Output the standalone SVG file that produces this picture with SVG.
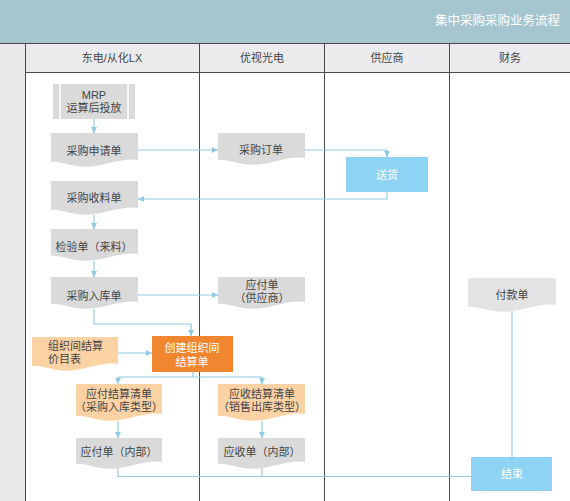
<svg xmlns="http://www.w3.org/2000/svg" width="570" height="501" viewBox="0 0 570 501">
<defs>
<style>
text{font-family:"Liberation Sans","Noto Sans CJK SC",sans-serif;font-size:11px;fill:#444;text-anchor:middle;dominant-baseline:central}
.lane{font-size:11px;fill:#444}
.title{font-size:12.5px;fill:#fff;text-anchor:end}
.wt{fill:#fff}
.ls{text-anchor:start}
.gray{fill:#dadadb}
.peach{fill:#fbd2a4}
.blue{fill:#8fd3f4}
.orange{fill:#f0862f}
.grid{stroke:#4a4a4a;stroke-width:1;fill:none}
.c{stroke:#93c9e0;stroke-width:1.2;fill:none}
.ca{stroke:#93c9e0;stroke-width:1.2;fill:none;marker-end:url(#ah)}
</style>
<marker id="ah" markerWidth="7" markerHeight="7" refX="6" refY="3.5" orient="auto" markerUnits="userSpaceOnUse">
<path d="M0,0.5 L6,3.5 L0,6.5 Z" fill="#93c9e0"/>
</marker>
</defs>
<rect x="0" y="0" width="570" height="501" fill="#fff"/>
<rect x="0" y="0" width="570" height="43" fill="#a6c6cf"/>
<text class="title" x="560" y="21">集中采购采购业务流程</text>
<rect x="0" y="43" width="25" height="458" fill="#e8e8ea"/>
<rect x="25" y="43" width="545" height="29" fill="#ebebed"/>
<g id="lanes">
<path class="grid" d="M0,43.5 H570 M25,72.5 H570 M25.5,43 V501 M199.5,43 V501 M324.5,43 V501 M449.5,43 V501"/>
<text class="lane" x="112" y="58">东电/从化LX</text>
<text class="lane" x="262" y="58">优视光电</text>
<text class="lane" x="387" y="58">供应商</text>
<text class="lane" x="510" y="58">财务</text>
</g>
<g id="connectors">
<path class="ca" d="M94,119 V133"/>
<path class="ca" d="M138,150 H218"/>
<path class="ca" d="M305,150 H387 V157"/>
<path class="ca" d="M387,192 V199 H138"/>
<path class="ca" d="M94,215 V229"/>
<path class="ca" d="M94,261 V277"/>
<path class="ca" d="M138,295 H218"/>
<path class="ca" d="M94,309 V324 H191 V336"/>
<path class="ca" d="M118,353 H152"/>
<path class="c" d="M193,372 V377 M118,377 H262"/>
<path class="ca" d="M118,377 V384"/>
<path class="ca" d="M262,377 V384"/>
<path class="ca" d="M118,421 V438"/>
<path class="ca" d="M262,421 V438"/>
<path class="c" d="M118,468 V476.5 H471 M262,468 V476.5"/>
<path d="M512,311 V457" stroke="#a8dcd8" stroke-width="1.5" fill="none"/>
</g>
<g id="mrp">
<rect class="gray" x="53" y="84" width="82" height="35"/>
<path d="M60,84 V119 M128,84 V119" stroke="#fff" stroke-width="1.5"/>
<text x="94" y="95">MRP</text>
<text x="94" y="108">运算后投放</text>
</g>
<g id="req">
<path class="gray" d="M51,133 H138 V160 C118,157 100,170 76,166 C64,164 57,161 51,162 Z"/>
<text x="94" y="151">采购申请单</text>
</g>
<g id="po">
<path class="gray" d="M218,133 H305 V158 C285,155 267,168 243,164 C231,162 224,159 218,160 Z"/>
<text x="261" y="150">采购订单</text>
</g>
<g id="ship">
<rect class="blue" x="346" y="157" width="82" height="35"/>
<text class="wt" x="387" y="175">送货</text>
</g>
<g id="recv">
<path class="gray" d="M51,181 H138 V208 C118,205 100,218 76,214 C64,212 57,209 51,210 Z"/>
<text x="94" y="198">采购收料单</text>
</g>
<g id="insp">
<path class="gray" d="M51,229 H138 V254 C118,251 100,264 76,260 C64,258 57,255 51,256 Z"/>
<text x="94" y="247">检验单（来料）</text>
</g>
<g id="stockin">
<path class="gray" d="M51,277 H138 V302 C118,299 100,312 76,308 C64,306 57,303 51,304 Z"/>
<text x="94" y="296">采购入库单</text>
</g>
<g id="apsup">
<path class="gray" d="M218,277 H305 V302 C285,299 267,312 243,308 C231,306 224,303 218,304 Z"/>
<text x="262" y="285">应付单</text>
<text x="262" y="298">（供应商）</text>
</g>
<g id="price">
<path class="peach" d="M32,337 H118 V364 C98,361 80,374 57,370 C45,368 38,365 32,366 Z"/>
<text class="ls" x="48" y="346">组织间结算</text>
<text class="ls" x="48" y="359">价目表</text>
</g>
<g id="create">
<rect class="orange" x="152" y="336" width="81" height="36"/>
<text class="wt" x="192" y="348">创建组织间</text>
<text class="wt" x="192" y="362">结算单</text>
</g>
<g id="apset">
<path class="peach" d="M76,384 H162 V414 C142,411 124,424 101,420 C89,418 82,415 76,416 Z"/>
<text x="119" y="394">应付结算清单</text>
<text x="119" y="407">（采购入库类型）</text>
</g>
<g id="arset">
<path class="peach" d="M218,384 H305 V414 C285,411 267,424 243,420 C231,418 224,415 218,416 Z"/>
<text x="262" y="394">应收结算清单</text>
<text x="262" y="407">（销售出库类型）</text>
</g>
<g id="apint">
<path class="gray" d="M76,438 H162 V462 C142,459 124,472 101,468 C89,466 82,463 76,464 Z"/>
<text x="119" y="452">应付单（内部）</text>
</g>
<g id="arint">
<path class="gray" d="M218,438 H305 V462 C285,459 267,472 243,468 C231,466 224,463 218,464 Z"/>
<text x="262" y="452">应收单（内部）</text>
</g>
<g id="pay">
<path d="M468,278 H556 V305 C536,302 518,315 494,311 C482,309 475,306 468,307 Z" fill="#e3e3e5"/>
<text x="512" y="295">付款单</text>
</g>
<g id="end">
<rect class="blue" x="471" y="457" width="81" height="34"/>
<text class="wt" x="512" y="474">结束</text>
</g>
</svg>
